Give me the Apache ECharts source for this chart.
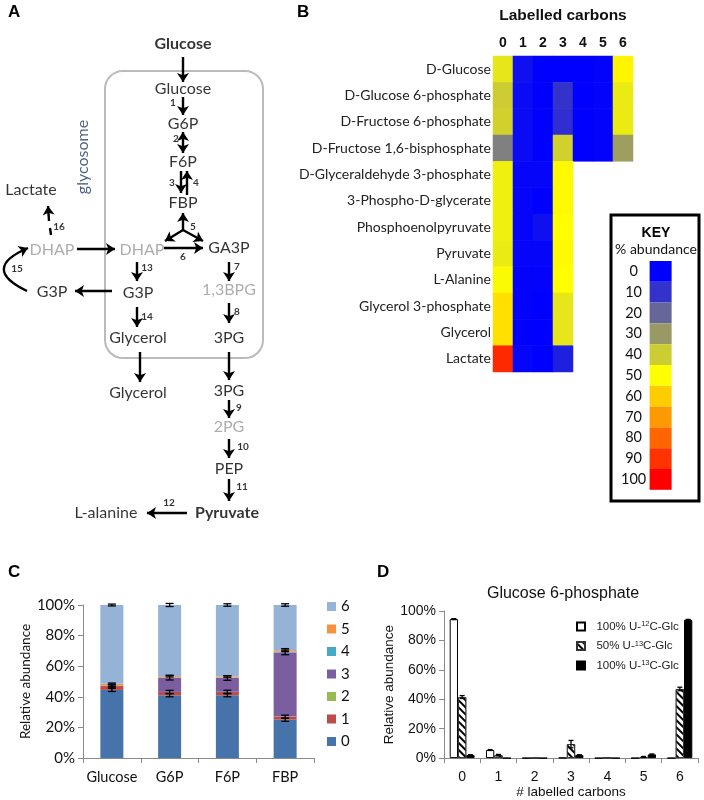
<!DOCTYPE html>
<html>
<head>
<meta charset="utf-8">
<script src="https://cdn.jsdelivr.net/npm/echarts@6/dist/echarts.min.js"></script>
<style>
  html, body { margin: 0; padding: 0; background: #fff; }
  #chart { width: 704px; height: 800px; }
</style>
</head>
<body>
<div id="chart"></div>
<script>
// ---- panel A: pathway (diagram units = pixels of the panel) ----
const pathLabels = [
  ['Glucose', 183, 44, 'bold'], ['Glucose', 183, 89, 'plain'], ['G6P', 183, 124, 'plain'],
  ['F6P', 183, 162, 'plain'], ['FBP', 183, 203, 'plain'], ['DHAP', 142, 250, 'grey'],
  ['GA3P', 229, 248, 'plain'], ['DHAP', 52, 250, 'grey'], ['Lactate', 31, 190, 'plain'],
  ['G3P', 52, 292, 'plain'], ['G3P', 138, 293, 'plain'], ['1,3BPG', 229, 290, 'grey'],
  ['Glycerol', 138, 338, 'plain'], ['3PG', 229, 338, 'plain'], ['Glycerol', 138, 393, 'plain'],
  ['3PG', 229, 391, 'plain'], ['2PG', 229, 427, 'grey'], ['PEP', 229, 469, 'plain'],
  ['Pyruvate', 227, 513, 'bold'], ['L-alanine', 106, 513, 'plain']
];
const stepNumbers = [
  ['1', 173, 103], ['2', 176, 139], ['3', 172, 183], ['4', 196, 183], ['5', 193, 227],
  ['6', 183, 257], ['7', 237, 267], ['8', 237, 312], ['9', 239, 408], ['10', 243, 447],
  ['11', 242, 487], ['12', 169, 503], ['13', 147, 268], ['14', 147, 317], ['15', 17, 269],
  ['16', 59, 227]
];
const oneWayArrows = [
  [[183, 57], [183, 82]], [[183, 97], [183, 115]], [[181, 171], [181, 193]], [[187, 195], [187, 171]],
  [[183, 230], [183, 213]], [[183, 230], [165, 241]], [[183, 230], [203, 241]], [[164, 248], [203, 248]],
  [[77, 249], [115, 249]], [[112, 291], [75, 291]], [[137, 262], [137, 281]], [[229, 262], [229, 281]],
  [[137, 307], [137, 327]], [[229, 303], [229, 323]], [[140, 352], [140, 382]], [[229, 352], [229, 380]],
  [[229, 400], [229, 418]], [[229, 439], [229, 458]], [[229, 479], [229, 501]], [[187, 513], [147, 513]],
  [[49, 221], [48, 206]]
];
const twoWayArrows = [[[183, 132], [183, 153]]];
const plainSegments = [[[51, 235], [50, 228]]];
const curvedArrows = [[[27, 291], [28, 248]]];

// ---- panel B: heatmap ----
const carbonLabels = ['0', '1', '2', '3', '4', '5', '6'];
const metabolites = ['D-Glucose', 'D-Glucose 6-phosphate', 'D-Fructose 6-phosphate',
  'D-Fructose 1,6-bisphosphate', 'D-Glyceraldehyde 3-phosphate', '3-Phospho-D-glycerate',
  'Phosphoenolpyruvate', 'Pyruvate', 'L-Alanine', 'Glycerol 3-phosphate', 'Glycerol', 'Lactate'];
const heatValues = [
  [45, 3, 0, 0, 0, 0.5, 52],
  [40, 2, 0, 10, 0, 0.5, 46],
  [41, 2, 0, 9, 0, 0.5, 46],
  [25, 2, 0, 41, 0, 0.5, 31],
  [47, 1, 1, 51],
  [47, 1, 0, 51],
  [47, 1, 3, 50],
  [46, 1, 1, 51],
  [49, 0.5, 0.5, 50],
  [56, 0.5, 0, 45],
  [56, 0, 0, 45],
  [92, 1, 0, 6]
];
const keyLabels = ['0', '10', '20', '30', '40', '50', '60', '70', '80', '90', '100'];
const keyColors = ['#0000FF', '#3333CC', '#666699', '#999966', '#CCCC33', '#FFFF00',
  '#FFCC00', '#FF9900', '#FF6600', '#FF3300', '#FF0000'];

// ---- panel C: stacked isotopologue abundance ----
const cCategories = ['Glucose', 'G6P', 'F6P', 'FBP'];
const isoNames = ['0', '1', '2', '3', '4', '5', '6'];
const isoColors = ['#4674AA', '#BE4B48', '#98B954', '#7B5EA0', '#46AAC5', '#F69240', '#95B3D7'];
const isoValues = [
  [44.5, 41, 41, 25],
  [2.5, 2.2, 2.3, 2],
  [0, 0, 0, 0.2],
  [0.3, 9.3, 9.0, 41.8],
  [0.2, 0.2, 0.2, 0.5],
  [1.0, 0.8, 0.8, 1.0],
  [51.5, 46.5, 46.7, 29.5]
];
const isoErrors = [
  [1, 1, 1, 1],
  [1.2, 1, 1, 1],
  [0, 0, 0, 0],
  [0.5, 1.5, 1.5, 1.5],
  [0, 0, 0, 0],
  [0.5, 0.5, 0.5, 1],
  [0.6, 1, 0.8, 0.8]
];

// ---- panel D: G6P labelling ----
const dCategories = ['0', '1', '2', '3', '4', '5', '6'];
const c12Glc = [94.5, 5.5, 0, 0.2, 0, 0, 0];
const c13HalfGlc = [41.5, 2, 0, 9.5, 0.3, 0.8, 47];
const c13FullGlc = [2, 0, 0, 2, 0, 2.5, 94];
const c12Err = [0.3, 0.3, 0, 0, 0, 0, 0];
const c13HalfErr = [1, 0.5, 0, 2.5, 0, 0.3, 1.2];
const c13FullErr = [0.3, 0, 0, 0.3, 0, 0.3, 0.3];
const dNames = ['100% U-12C-Glc', '50% U-13C-Glc', '100% U-13C-Glc '];
const dLegendText = {
  '100% U-12C-Glc': '100% U-{s|12}C-Glc',
  '50% U-13C-Glc': '50% U-{s|13}C-Glc',
  '100% U-13C-Glc ': '100% U-{s|13}C-Glc'
};

const FONT = 'Lato';
const ARIAL = 'Liberation Sans';
const AXIS_GREY = '#8a8a8a';

const styleByKind = {
  bold: { fontSize: 16, fontWeight: 'bold', color: '#000' },
  plain: { fontSize: 16, color: '#000' },
  grey: { fontSize: 16, color: '#999' }
};

const labelData = pathLabels.map(([name, x, y, kind]) => ({
  value: [x, y],
  label: Object.assign({ formatter: name, fontFamily: FONT }, styleByKind[kind])
})).concat(stepNumbers.map(([n, x, y]) => ({
  value: [x, y],
  label: { formatter: n, fontFamily: FONT, fontSize: 10, fontWeight: 'bold', color: '#000' }
}))).concat([{
  value: [83, 157],
  label: { formatter: 'glycosome', fontFamily: FONT, fontSize: 16, color: '#1F3864', rotate: 90 }
}]);

const heatData = [];
heatValues.forEach((row, r) => row.forEach((v, c) => heatData.push([c, r, v])));

// cumulative tops for the error bars of panel C
const cErrData = [];
cCategories.forEach((_, c) => {
  let cum = 0;
  isoValues.forEach((vals, s) => {
    cum += vals[c];
    if (isoErrors[s][c] > 0) cErrData.push([c, cum, isoErrors[s][c]]);
  });
});

function errorRenderer(offset, cap) {
  return function (params, api) {
    const x = api.value(0), v = api.value(1), e = api.value(2);
    const hi = api.coord([x, v + e]);
    const lo = api.coord([x, v - e]);
    const px = hi[0] + offset;
    const st = { stroke: '#000', lineWidth: 1.3 };
    return {
      type: 'group',
      children: [
        { type: 'line', shape: { x1: px, y1: hi[1], x2: px, y2: lo[1] }, style: st },
        { type: 'line', shape: { x1: px - cap, y1: hi[1], x2: px + cap, y2: hi[1] }, style: st },
        { type: 'line', shape: { x1: px - cap, y1: lo[1], x2: px + cap, y2: lo[1] }, style: st }
      ]
    };
  };
}
const pairs = (vals, errs) => vals.map((v, i) => [i, v, errs[i]]).filter(d => d[2] > 0);

const series = [];
// A
series.push({
  type: 'scatter', xAxisIndex: 0, yAxisIndex: 0, symbolSize: 0, silent: true,
  label: { show: true, position: [0, 0], align: 'center', verticalAlign: 'middle' },
  data: labelData, z: 5
});
const arrowLine = { color: '#000', width: 2.4, opacity: 1 };
series.push({
  type: 'lines', coordinateSystem: 'cartesian2d', xAxisIndex: 0, yAxisIndex: 0, silent: true,
  symbol: ['none', 'arrow'], symbolSize: 9, lineStyle: arrowLine,
  data: oneWayArrows.map(c => ({ coords: c }))
    .concat(curvedArrows.map(c => ({ coords: c, lineStyle: { curveness: 1.1 } })))
});
series.push({
  type: 'lines', coordinateSystem: 'cartesian2d', xAxisIndex: 0, yAxisIndex: 0, silent: true,
  symbol: ['arrow', 'arrow'], symbolSize: 9, lineStyle: arrowLine,
  data: twoWayArrows.map(c => ({ coords: c }))
});
series.push({
  type: 'lines', coordinateSystem: 'cartesian2d', xAxisIndex: 0, yAxisIndex: 0, silent: true,
  symbol: ['none', 'none'], lineStyle: arrowLine,
  data: plainSegments.map(c => ({ coords: c }))
});
// B
const heatIndex = series.length;
series.push({
  type: 'heatmap', xAxisIndex: 1, yAxisIndex: 1, data: heatData, silent: true,
  itemStyle: { borderWidth: 0 }
});
// C
isoNames.forEach((n, s) => {
  series.push({
    type: 'bar', name: n, stack: 'iso', xAxisIndex: 2, yAxisIndex: 2, barWidth: 23,
    itemStyle: { color: isoColors[s] }, data: isoValues[s], silent: true
  });
});
series.push({
  type: 'custom', xAxisIndex: 2, yAxisIndex: 2, silent: true, z: 10,
  renderItem: errorRenderer(0, 4), data: cErrData
});
// D
const hatch = {
  symbol: 'rect', symbolSize: 1, color: '#000', backgroundColor: '#fff',
  dashArrayX: [1, 0], dashArrayY: [1.2, 2.2], rotation: Math.PI / 4
};
const dStyles = [
  { color: '#fff', borderColor: '#000', borderWidth: 1 },
  { color: '#fff', borderColor: '#333', borderWidth: 1, decal: hatch },
  { color: '#000', borderColor: '#000', borderWidth: 1 }
];
[c12Glc, c13HalfGlc, c13FullGlc].forEach((vals, i) => {
  series.push({
    type: 'bar', name: dNames[i], xAxisIndex: 3, yAxisIndex: 3, barWidth: 8.3, barGap: '0%',
    itemStyle: dStyles[i], data: vals, silent: true
  });
});
[[c12Glc, c12Err, -8.3], [c13HalfGlc, c13HalfErr, 0], [c13FullGlc, c13FullErr, 8.3]].forEach(([v, e, off]) => {
  series.push({
    type: 'custom', xAxisIndex: 3, yAxisIndex: 3, silent: true, z: 10,
    renderItem: errorRenderer(off, 2.5), data: pairs(v, e)
  });
});
const keyIndex = series.length;
series.push({ type: 'scatter', xAxisIndex: 0, yAxisIndex: 0, data: [], silent: true });

const hiddenValue = (max, inv) => ({ type: 'value', min: 0, max: max, inverse: !!inv, show: false });

const option = {
  animation: false,
  backgroundColor: '#fff',
  grid: [
    { left: 0, top: 0, width: 300, height: 540 },
    { left: 493, top: 56, width: 140, height: 316 },
    { left: 83, top: 605, width: 231, height: 153 },
    { left: 444, top: 611, width: 254, height: 149 }
  ],
  xAxis: [
    Object.assign({ gridIndex: 0 }, hiddenValue(300)),
    {
      gridIndex: 1, type: 'category', position: 'top', data: carbonLabels,
      axisLine: { show: false }, axisTick: { show: false },
      axisLabel: { fontFamily: ARIAL, fontWeight: 'bold', fontSize: 14, color: '#111', margin: 6 },
      name: 'Labelled carbons', nameLocation: 'middle', nameGap: 32,
      nameTextStyle: { fontFamily: ARIAL, fontWeight: 'bold', fontSize: 15.5, color: '#111' }
    },
    {
      gridIndex: 2, type: 'category', data: cCategories,
      axisLine: { lineStyle: { color: AXIS_GREY } },
      axisTick: { show: true, length: 5, lineStyle: { color: AXIS_GREY } },
      axisLabel: { interval: 0, fontFamily: FONT, fontSize: 14.5, color: '#111', margin: 12 }
    },
    {
      gridIndex: 3, type: 'category', data: dCategories,
      axisLine: { lineStyle: { color: AXIS_GREY } },
      axisTick: { show: true, length: 5, lineStyle: { color: AXIS_GREY } },
      axisLabel: { interval: 0, fontFamily: ARIAL, fontSize: 14, color: '#111', margin: 12 },
      name: '# labelled carbons', nameLocation: 'middle', nameGap: 26,
      nameTextStyle: { fontFamily: ARIAL, fontSize: 13.5, color: '#111' }
    }
  ],
  yAxis: [
    Object.assign({ gridIndex: 0 }, hiddenValue(540, true)),
    {
      gridIndex: 1, type: 'category', data: metabolites, inverse: true,
      axisLine: { show: false }, axisTick: { show: false },
      axisLabel: { fontFamily: FONT, fontSize: 14, color: '#222', margin: 2 }
    },
    {
      gridIndex: 2, type: 'value', min: 0, max: 100, interval: 20,
      axisLine: { show: true, lineStyle: { color: AXIS_GREY } },
      axisTick: { show: true, length: 5, lineStyle: { color: AXIS_GREY } },
      splitLine: { show: false },
      axisLabel: { formatter: '{value}%', fontFamily: FONT, fontSize: 15, color: '#111', margin: 8 },
      name: 'Relative abundance', nameLocation: 'middle', nameGap: 50,
      nameTextStyle: { fontFamily: FONT, fontSize: 13.5, color: '#111' }
    },
    {
      gridIndex: 3, type: 'value', min: 0, max: 100, interval: 20,
      axisLine: { show: true, lineStyle: { color: AXIS_GREY } },
      axisTick: { show: true, length: 5, lineStyle: { color: AXIS_GREY } },
      splitLine: { show: false },
      axisLabel: { formatter: '{value}%', fontFamily: ARIAL, fontSize: 14, color: '#111', margin: 8 },
      name: 'Relative abundance', nameLocation: 'middle', nameGap: 47,
      nameTextStyle: { fontFamily: ARIAL, fontSize: 13.5, color: '#111' }
    }
  ],
  visualMap: [
    {
      type: 'continuous', seriesIndex: heatIndex, dimension: 2, show: false,
      min: 0, max: 100, inRange: { color: keyColors }
    },
    {
      type: 'piecewise', seriesIndex: keyIndex, orient: 'vertical', inverse: true,
      left: 621, top: 261, padding: 0, itemWidth: 22, itemHeight: 20.8, itemGap: 0,
      itemSymbol: 'rect', align: 'right', textGap: 1, selectedMode: false,
      pieces: keyLabels.map((l, i) => ({ value: i * 10, label: '{c|' + l + '}', color: keyColors[i] })),
      textStyle: {
        fontFamily: FONT, fontSize: 14.5, color: '#111',
        rich: { c: { width: 30, align: 'center', fontFamily: FONT, fontSize: 14.5, color: '#111' } }
      }
    }
  ],
  legend: [
    {
      orient: 'vertical', left: 322, top: 594, itemWidth: 9, itemHeight: 9, itemGap: 7.5,
      icon: 'rect', selectedMode: false, data: isoNames.slice().reverse(),
      textStyle: { fontFamily: FONT, fontSize: 15, color: '#111' }
    },
    {
      orient: 'vertical', left: 571, top: 615, itemWidth: 8, itemHeight: 8, itemGap: 7,
      selectedMode: false, data: dNames, icon: 'rect',
      formatter: n => '  ' + dLegendText[n],
      textStyle: {
        fontFamily: ARIAL, fontSize: 11.5, color: '#222',
        rich: { s: { fontFamily: ARIAL, fontSize: 7.5, verticalAlign: 'top', padding: [0, 0, 5, 0] } }
      }
    }
  ],
  graphic: [
    { type: 'text', left: 8, top: 4, style: { text: 'A', font: 'bold 17px "Liberation Sans"', fill: '#000' } },
    { type: 'text', left: 297, top: 4, style: { text: 'B', font: 'bold 17px "Liberation Sans"', fill: '#000' } },
    { type: 'text', left: 8, top: 564, style: { text: 'C', font: 'bold 17px "Liberation Sans"', fill: '#000' } },
    { type: 'text', left: 377, top: 564, style: { text: 'D', font: 'bold 17px "Liberation Sans"', fill: '#000' } },
    {
      type: 'rect', shape: { x: 105, y: 71, width: 158, height: 287, r: 18 },
      style: { fill: 'none', stroke: '#bbb', lineWidth: 2 }
    },
    {
      type: 'rect', shape: { x: 611, y: 215, width: 88, height: 286 },
      style: { fill: 'none', stroke: '#000', lineWidth: 3 }
    },
    {
      type: 'text', x: 656, y: 226, style: {
        text: 'KEY', font: 'bold 14px "Liberation Sans"', fill: '#000', textAlign: 'center'
      }
    },
    {
      type: 'text', x: 656, y: 242, style: {
        text: '% abundance', font: '14px Lato', fill: '#111', textAlign: 'center'
      }
    },
    {
      type: 'text', x: 563, y: 586, style: {
        text: 'Glucose 6-phosphate', font: '16px "Liberation Sans"', fill: '#111', textAlign: 'center'
      }
    }
  ],
  series: series
};

const chart = echarts.init(document.getElementById('chart'));
chart.setOption(option);
</script>
</body>
</html>
